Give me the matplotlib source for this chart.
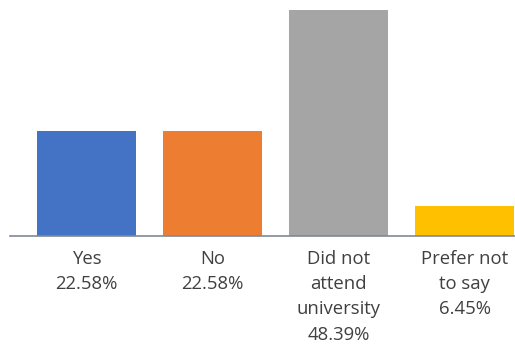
import matplotlib.pyplot as plt

categories = ['Yes', 'No', 'Did not\nattend\nuniversity', 'Prefer not\nto say']
values = [22.58, 22.58, 48.39, 6.45]
colors = ['#4472C4', '#ED7D31', '#A5A5A5', '#FFC000']

plt.rcParams['font.family'] = ['Open Sans', 'DejaVu Sans']

fig = plt.figure(figsize=(5.15, 3.52), dpi=100)
ax = fig.add_axes([10/515, (352-236)/352, 505/515, (236-2.5)/352])

x = range(len(values))
ax.bar(x, values, width=0.78, color=colors, zorder=2)

ax.set_xlim(-0.607, 3.4)
ax.set_ylim(0, 50)
ax.set_yticks([])
ax.set_xticks(list(x))
ax.set_xticklabels([f'{c}\n{v:.2f}%' for c, v in zip(categories, values)],
                   fontsize=13.3, color='#404040', linespacing=1.52, va='top')
ax.tick_params(axis='x', length=0, pad=10)

for s in ['top', 'right', 'left']:
    ax.spines[s].set_visible(False)
ax.spines['bottom'].set_color('#7F8A96')
ax.spines['bottom'].set_linewidth(1.2)

fig.savefig('out.png', dpi=100)
